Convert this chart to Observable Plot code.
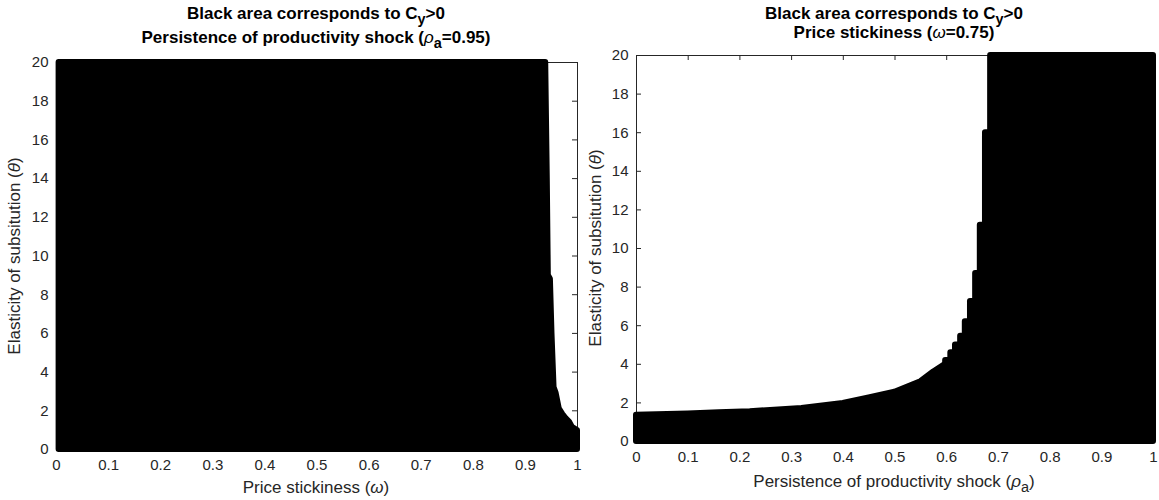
<!DOCTYPE html>
<html>
<head>
<meta charset="utf-8">
<script src="https://cdn.jsdelivr.net/npm/d3@7"></script>
<script src="https://cdn.jsdelivr.net/npm/@observablehq/plot@0.6"></script>
<style>
  body { margin: 0; background: #fff; font-family: "Liberation Sans", Arial, Helvetica, sans-serif; }
  #wrap { position: relative; width: 1159px; height: 500px; overflow: hidden; background: #fff; }
  .panel { position: absolute; top: 0; }
  .ttl, .lbl { position: absolute; white-space: nowrap; line-height: 1; transform: translate(-50%, -50%); }
  .ttl { font-weight: bold; font-size: 17px; color: #000; }
  .lbl { font-size: 17px; color: #262626; }
  .rot { transform: translate(-50%, -50%) rotate(-90deg); }
  .sub { position: relative; top: 0.38em; font-size: 0.85em; }
  .gk { font-style: italic; font-weight: normal; }
</style>
</head>
<body>
<div id="wrap">
  <div id="left" class="panel" style="left:0px"></div>
  <div id="right" class="panel" style="left:580px"></div>

  <div class="ttl" style="left:316px; top:13px">Black area corresponds to C<span class="sub">y</span>&gt;0</div>
  <div class="ttl" style="left:316px; top:37px">Persistence of productivity shock (<span class="gk">ρ</span><span class="sub">a</span>=0.95)</div>
  <div class="lbl" style="left:316px; top:487px">Price stickiness (<span class="gk">ω</span>)</div>
  <div class="lbl rot" style="left:14px; top:256px">Elasticity of subsitution (<span class="gk">θ</span>)</div>

  <div class="ttl" style="left:894px; top:13px">Black area corresponds to C<span class="sub">y</span>&gt;0</div>
  <div class="ttl" style="left:894px; top:32px">Price stickiness (<span class="gk">ω</span>=0.75)</div>
  <div class="lbl" style="left:894px; top:481px">Persistence of productivity shock (<span class="gk">ρ</span><span class="sub">a</span>)</div>
  <div class="lbl rot" style="left:595px; top:248px">Elasticity of subsitution (<span class="gk">θ</span>)</div>
</div>
<script>
// ---- tick values ----
const xTicks = [0, 0.1, 0.2, 0.3, 0.4, 0.5, 0.6, 0.7, 0.8, 0.9, 1];
const yTicks = [0, 2, 4, 6, 8, 10, 12, 14, 16, 18, 20];

// ---- left panel: boundary of black region (omega upper edge for each theta) ----
const leftTheta = [0, 0.98, 1.15, 1.4, 1.6, 1.8, 2.1, 2.9, 3.2, 6, 8.8, 9.0, 14, 20];
const leftOmega = [1.0, 1.0, 0.990, 0.985, 0.978, 0.972, 0.965, 0.959, 0.955, 0.951, 0.948, 0.944, 0.942, 0.939];
const leftOmegaLow = 0.005;

// ---- right panel: boundary of black region (theta upper edge for each rho_a) ----
const rightRhoSmooth   = [0, 0.1, 0.16, 0.22, 0.32, 0.4, 0.45, 0.5, 0.55, 0.575, 0.598];
const rightThetaSmooth = [1.36, 1.43, 1.49, 1.54, 1.71, 1.97, 2.26, 2.55, 3.1, 3.6, 4.0];
const rightRhoStep     = [0.598, 0.608, 0.617, 0.627, 0.636, 0.646, 0.656, 0.665, 0.675, 0.685, 1.0];
const rightThetaStep   = [4.2, 4.6, 5.0, 5.45, 6.2, 7.25, 8.7, 11.2, 16.0, 20, 20];

const axisColor = "#262626";
const fmt = d => String(d);

function frameMarks(W, H) {
  return [
    Plot.frame({stroke: axisColor, strokeWidth: 1}),
    Plot.ruleY(yTicks, {y: d => d, insetRight: W - 5, stroke: axisColor}),
    Plot.ruleY(yTicks, {y: d => d, insetLeft: W - 5, stroke: axisColor}),
    Plot.ruleX(xTicks, {x: d => d, insetTop: H - 5, stroke: axisColor}),
    Plot.ruleX(xTicks, {x: d => d, insetBottom: H - 5, stroke: axisColor}),
    Plot.axisX(xTicks, {tickSize: 0, tickPadding: 10, fontSize: 15, fill: axisColor, tickFormat: fmt, label: null}),
    Plot.axisY(yTicks, {tickSize: 0, tickPadding: 8, fontSize: 15, fill: axisColor, tickFormat: fmt, label: null})
  ];
}

// left
{
  const width = 580, height = 500, mL = 56, mR = 3, mT = 62, mB = 51;
  const data = leftTheta.map((t, i) => ({theta: t, omega: leftOmega[i]}));
  const chart = Plot.plot({
    width, height, marginLeft: mL, marginRight: mR, marginTop: mT, marginBottom: mB,
    style: {fontFamily: '"Liberation Sans", Arial, sans-serif', background: "transparent", overflow: "visible"},
    x: {domain: [0, 1]},
    y: {domain: [0, 20]},
    marks: [
      ...frameMarks(width - mL - mR, height - mT - mB),
      Plot.areaX(data, {y: "theta", x1: leftOmegaLow, x2: "omega", fill: "#000", stroke: "#000", strokeWidth: 6, strokeLinejoin: "round"})
    ]
  });
  document.getElementById("left").appendChild(chart);
}

// right
{
  const width = 579, height = 500, mL = 56, mR = 6, mT = 55, mB = 59;
  const smooth = rightRhoSmooth.map((r, i) => ({rho: r, theta: rightThetaSmooth[i]}));
  const steps = rightRhoStep.map((r, i) => ({rho: r, theta: rightThetaStep[i]}));
  const chart = Plot.plot({
    width, height, marginLeft: mL, marginRight: mR, marginTop: mT, marginBottom: mB,
    style: {fontFamily: '"Liberation Sans", Arial, sans-serif', background: "transparent", overflow: "visible"},
    x: {domain: [0, 1]},
    y: {domain: [0, 20]},
    marks: [
      ...frameMarks(width - mL - mR, height - mT - mB),
      Plot.areaY(smooth, {x: "rho", y1: 0, y2: "theta", fill: "#000", stroke: "#000", strokeWidth: 6, strokeLinejoin: "round"}),
      Plot.areaY(steps, {x: "rho", y1: 0, y2: "theta", curve: "step-after", fill: "#000", stroke: "#000", strokeWidth: 6, strokeLinejoin: "round"})
    ]
  });
  document.getElementById("right").appendChild(chart);
}
</script>
</body>
</html>
